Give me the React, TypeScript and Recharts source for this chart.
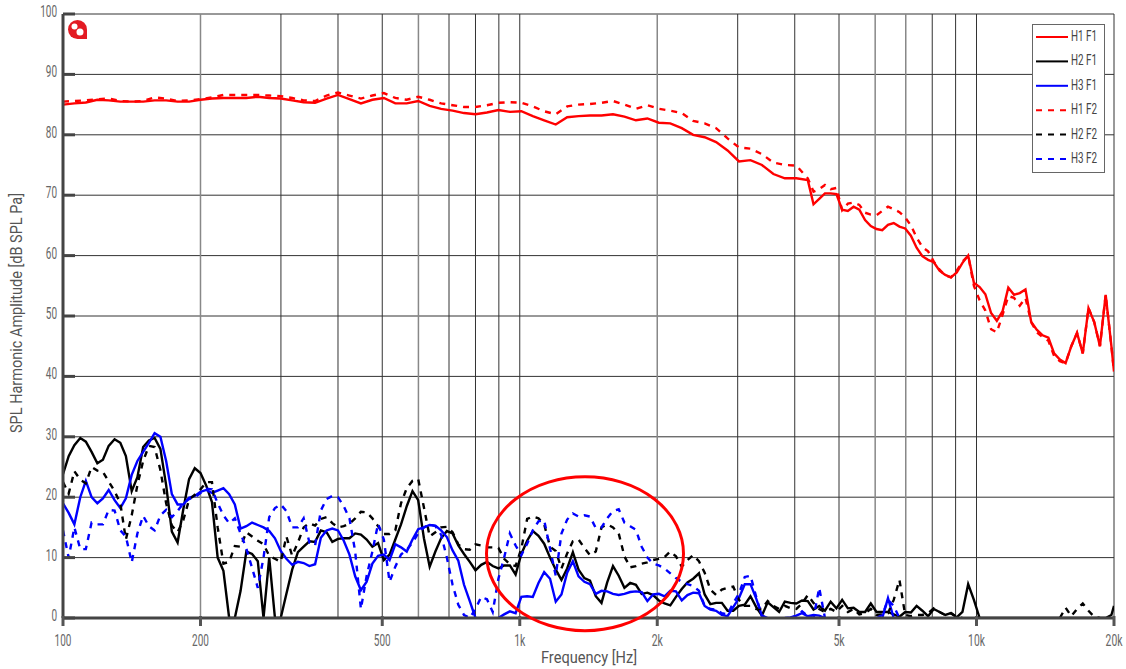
import { CartesianGrid, Label, Legend, Line, LineChart, XAxis, YAxis } from 'recharts'

const FONT = 'Roboto, "DejaVu Sans Condensed", sans-serif'

const lowFreqs = [
  100, 102.9, 105.9, 109.1, 112.2, 115.5, 118.9, 122.3, 125.9, 129.7, 133.5, 137.3,
  141.4, 145.5, 149.8, 154.2, 158.7, 163.4, 168.2, 173.1, 178.2, 183.4, 188.8, 194.3,
  200, 205.9, 211.9, 218.1, 224.5, 231.1, 237.8, 244.8, 252, 259.4, 267, 274.8,
  282.8, 291.1, 299.7, 308.4, 317.5, 326.8, 336.4, 346.3, 356.4, 366.9, 377.6, 388.7,
  400, 411.8, 423.8, 436.2, 449, 462.2, 475.7, 489.6, 504, 518.8, 534, 549.6,
  565.7, 582.3, 599.3, 616.9, 635, 653.6, 672.7, 692.5, 712.7, 733.6, 755.1, 777.3,
  800, 823.5, 847.6, 872.5, 898, 924.3, 951.4, 979.3, 1008, 1038, 1068, 1099,
  1131, 1165, 1199, 1234, 1270, 1307, 1345, 1385, 1425, 1467, 1510, 1554,
  1600, 1647, 1695, 1745, 1796, 1849, 1903, 1959, 2016, 2075, 2136, 2198,
  2263, 2329, 2397, 2468, 2540, 2614, 2691, 2770, 2851, 2934, 3020, 3109,
  3200, 3294, 3390, 3490, 3592, 3697, 3805, 3917, 4032, 4150, 4272, 4397,
  4525, 4658, 4794, 4935, 5080, 5228, 5382, 5539, 5702, 5869, 6041, 6218,
  6400, 6588, 6781, 6980, 7184, 7394, 7611, 7834, 8063, 8300, 8543, 8793,
  9051, 9316, 9589, 9870, 10159, 10457, 10763, 11079, 11404, 11738, 12082, 12436,
  12800, 13175, 13561, 13959, 14368, 14789, 15222, 15668, 16127, 16600, 17086, 17586,
  18102, 18632, 19178, 19740, 20000,
]

const h1Freqs = [
  100, 105.9, 112.2, 118.9, 125.9, 133.5, 141.4, 149.8, 158.7, 168.2, 178.2, 188.8,
  200, 211.9, 224.5, 237.8, 252, 267, 282.8, 299.7, 317.5, 336.4, 356.4, 377.6,
  400, 423.8, 449, 475.7, 504, 534, 565.7, 599.3, 635, 672.7, 712.7, 755.1,
  800, 847.6, 898, 951.4, 1008, 1068, 1131, 1199, 1270, 1345, 1425, 1510,
  1600, 1695, 1796, 1903, 2016, 2136, 2263, 2397, 2540, 2691, 2851, 3020,
  3200, 3390, 3592, 3805, 4032, 4272, 4397, 4525, 4658, 4794, 4935, 5080,
  5228, 5382, 5539, 5702, 5869, 6041, 6218, 6400, 6588, 6781, 6980, 7184,
  7394, 7611, 7834, 8063, 8300, 8543, 8793, 9051, 9316, 9589, 9870, 10159,
  10457, 10763, 11079, 11404, 11738, 12082, 12436, 12800, 13175, 13561, 13959, 14368,
  14789, 15222, 15668, 16127, 16600, 17086, 17586, 18102, 18632, 19178, 19740, 20000,
]

const h1f1 = [
  85, 85.2, 85.35, 85.8, 85.7, 85.5, 85.5, 85.5, 85.7, 85.7, 85.5, 85.5,
  85.8, 86, 86.1, 86.1, 86.1, 86.3, 86.1, 86, 85.7, 85.4, 85.3, 86,
  86.6, 85.9, 85.2, 85.8, 86.1, 85.2, 85.2, 85.6, 84.8, 84.3, 84, 83.6,
  83.4, 83.7, 84.1, 83.8, 83.9, 83.1, 82.4, 81.7, 82.9, 83.1, 83.2, 83.2,
  83.4, 83, 82.4, 82.7, 82, 81.9, 81.1, 80, 79.6, 78.8, 77.4, 75.6,
  75.8, 75, 73.5, 72.8, 72.8, 72.5, 68.5, 69.4, 70.3, 70.3, 70.2, 67.6,
  67.4, 68.1, 67.6, 65.9, 64.9, 64.4, 64.2, 65.1, 65.4, 64.8, 64.5, 63.3,
  61.3, 59.9, 59.3, 58.9, 57.5, 56.8, 56.4, 57.2, 58.8, 60, 55.5, 54.8,
  53.6, 50.5, 49.2, 50.8, 54.7, 53.5, 53.8, 54.4, 49, 47.7, 46.8, 46.4,
  43.8, 42.8, 42.2, 45, 47.2, 43.8, 51.3, 49, 45, 53.5, 45, 40.8,
]

const h1f2 = [
  85.5, 85.6, 85.7, 85.9, 86, 85.6, 85.5, 85.6, 86.2, 86, 85.6, 85.7,
  85.9, 86.2, 86.6, 86.6, 86.6, 86.6, 86.5, 86.4, 86.1, 85.7, 85.6, 86.5,
  87, 86.5, 86, 86.5, 86.9, 86.1, 85.8, 86.3, 85.8, 85.2, 84.9, 84.6,
  84.6, 84.9, 85.3, 85.4, 85.3, 84.7, 83.9, 83.4, 84.7, 85, 85.1, 85.3,
  85.6, 85, 84.3, 84.9, 84.3, 84, 83.6, 82.3, 81.9, 81.1, 79.4, 77.9,
  77.7, 76.8, 75.4, 75, 74.9, 72.8, 70.6, 71, 71.7, 71, 71.2, 67.5,
  68.6, 68.8, 68.4, 67.1, 66.8, 66.7, 67.4, 68.1, 67.7, 67.2, 66.3, 65,
  63, 61.4, 60.7, 59, 57.7, 56.7, 56.4, 57.5, 59, 60, 55, 52.6,
  50.9, 47.8, 47.3, 50.2, 53.3, 53, 51.7, 53, 49, 47.3, 46.5, 45.9,
  43.4, 42.5, 42.2, 45, 47.2, 43.8, 51.3, 49, 45, 53.5, 45, 40.8,
]

const h2f1 = [
  23.8, 26.8, 28.6, 29.8, 29.2, 27.5, 25.6, 26.2, 28.5, 29.6, 29, 26.8,
  21, 23.3, 28.3, 29.4, 29.8, 28, 22, 14.3, 12.5, 18, 23, 24.8,
  24, 21.9, 19.2, 10, 7.8, 0, 0, 4.5, 11, 10.6, 9.4, 0,
  10, 0, 0, 4, 8, 10.9, 11.8, 12.7, 12.6, 14.5, 14.2, 12.6,
  13.1, 13.2, 13.2, 14, 13.8, 13, 11.8, 12.4, 9.6, 10.5, 13, 15.5,
  18.5, 21, 19.5, 13.2, 8.5, 11, 13.2, 14.4, 14, 12, 10.6, 9.3,
  7.9, 8.8, 9.3, 8.6, 8.2, 8.7, 8.7, 7.2, 10.6, 12.8, 14.4, 13.6,
  12.3, 10, 8, 6.3, 8.2, 10.9, 8, 6.6, 6.2, 3.6, 2.5, 5.9,
  8.6, 7, 5, 5.8, 5.5, 4, 4.2, 3.8, 2.9, 2.4, 2.1, 3.5,
  4.8, 5.9, 6.5, 7.4, 3.9, 2.3, 2.5, 2.5, 1.2, 1.2, 2, 2.2,
  3.6, 1.8, 0.4, 2.6, 1.8, 1, 2.7, 2.5, 2.4, 2.9, 2.8, 1.4,
  2, 1.2, 2.7, 1.6, 3, 1.6, 1.7, 1, 1, 2.4, 1, 1,
  1, 0.6, 0.2, 1, 0.9, 2, 1.2, 0.3, 1.5, 1, 0.5, 0.8,
  0.1, 1, 5.6, 3, 0, 0, 0, 0, 0, 0, 0, 0,
  0, 0, 0, 0, 0, 0, 0, 0, 0, 0, 0, 0,
  0, 0, 0, 0.5, 2,
]

const h2f2 = [
  22.5, 20.6, 24.3, 22.9, 22.3, 25, 24.4, 24.2, 22.6, 21, 19, 13,
  17, 22, 26, 28.5, 28.3, 24.5, 19, 15.3, 14.2, 16.2, 19.6, 20.4,
  21.3, 22.5, 22.5, 15, 9, 9.3, 11.9, 11.8, 14.2, 13.5, 12.8, 12.2,
  10.3, 9.8, 9.3, 13.5, 10.3, 12.5, 15, 15.7, 15.3, 16.4, 16.7, 15.7,
  15, 15.2, 15.6, 16.5, 17.6, 17.5, 16.5, 15.2, 13.9, 13.9, 14.5, 19,
  21.5, 22.7, 23, 18.3, 13.5, 14.2, 15, 15.1, 14.2, 12.2, 11.4, 11.3,
  12.2, 12, 11.7, 11.7, 11.6, 9.8, 8.9, 8.6, 11.5, 16.4, 16.8, 16.5,
  15.5, 11.8, 11.1, 8.2, 10.7, 12.7, 13, 11.6, 10.4, 11, 15, 15.5,
  15, 14, 10.2, 8.4, 8.6, 9, 9.2, 9.6, 9.8, 10.1, 11, 10.2,
  8.5, 9.6, 10.4, 9.4, 7.5, 4.7, 3.8, 4.7, 5, 5.2, 3, 2,
  2, 1.5, 1.5, 2.8, 2, 1.5, 2, 1.6, 1.5, 2.4, 3.8, 2.5,
  1.5, 1, 1.5, 1, 2, 1, 1.5, 0.6, 0.8, 1.5, 0.5, 0.6,
  0.8, 3, 6.3, 0.5, 0.3, 0.5, 0.5, 0.8, 1.6, 1, 0.5, 0.8,
  0.2, 0, null, null, null, null, null, null, null, null, null, null,
  null, null, null, null, null, null, 0, 1.7, 0.3, 1.5, 2.4, 1.2,
  0.2, 0,
]

const h3f1 = [
  19, 17.4, 15.5, 20, 22.7, 20, 19, 19.8, 21.2, 19.5, 18.2, 19.8,
  23.7, 26, 27.5, 29, 30.6, 30, 26, 20.5, 18.8, 18.8, 19.9, 20.2,
  20.9, 21.2, 20.7, 21.1, 21.5, 20.5, 18.8, 14.8, 15.2, 15.8, 15.4, 15,
  14.4, 13.2, 11.1, 9.8, 8.8, 9.3, 9.1, 8.6, 8.9, 13.3, 14.5, 14.8,
  14.5, 12.8, 10.5, 6.9, 4.6, 6, 9, 10.3, 10.5, 9.6, 12.2, 11.7,
  11, 13, 14.7, 15, 15.4, 15.3, 14.5, 13.4, 11.2, 9.5, 5.5, 2.8,
  0, null, null, null, 0, 0.6, 1.1, 0.8, 3.5, 3.6, 3.5, 5.8,
  7.6, 6.5, 2.7, 3.9, 7.5, 9.4, 6.9, 6, 5.6, 4, 4.5, 4.4,
  4, 3.8, 4, 4.3, 4.4, 4.3, 2.8, 3.9, 4, 3.6, 4.5, 4.4,
  2.9, 3.8, 4.2, 4.1, 2, 1.4, 1.2, 0.5, 0.3, 1.8, 3.3, 5.6,
  5.6, 3.2, 0.4, 0, null, null, 0, 0.1, 0.4, 0.8, 0.3, 0.5,
  0.4, 0, null, null, null, null, null, null, null, null, null, 0,
  3.3, 0,
]

const h3f2 = [
  14.5, 10, 15, 11.4, 11.4, 15.8, 15.5, 15.5, 17.9, 17.8, 14.5, 13.5,
  9.2, 14, 16.9, 15.2, 14.5, 17, 17.9, 16.7, 17.7, 19, 19.7, 20,
  20.7, 21.4, 21.3, 19, 17, 15.7, 16.5, 14, 11.5, 8.3, 5, 10,
  16.7, 18.2, 18.8, 17.7, 15, 15, 16.5, 12.5, 12, 17.8, 19.7, 20.2,
  20, 18.5, 16.5, 11, 1.5, 7, 11, 15.6, 13, 6, 8.5, 10.5,
  11.3, 12.5, 14, 15, 15.5, 15.2, 13.8, 10, 5.5, 2.2, 0.5, 0,
  1.5, 3.5, 3.1, 1, 6.5, 10, 14, 12, 10.4, 12.3, 14.5, 16,
  16.2, 11.5, 7, 14, 16.3, 17.3, 16.8, 17, 16.8, 14.9, 15, 16.5,
  17.7, 18, 15.8, 15.2, 14.6, 11.8, 10, 9, 8.7, 8.2, 7.4, 6.6,
  6, 5.6, 5.3, 4.5, 2, 1.5, 1.4, 0.8, 0.6, 2.5, 4, 6.8,
  7, 3.5, 0.3, 0, null, null, null, 0, 0.3, 1.1, 0.3, 0,
  5, 0, null, null, null, null, null, null, null, null, 0, 0.5,
  3, 2, 0,
]

const xTicks = [
  100, 200, 300, 400, 500, 600, 700, 800, 900, 1000, 2000, 3000, 4000, 5000, 6000, 7000, 8000,
  9000, 10000, 20000,
]
const xLabels: Record<number, string> = {
  100: '100', 200: '200', 500: '500', 1000: '1k', 2000: '2k', 5000: '5k', 10000: '10k', 20000: '20k',
}
const softGrid = [200, 600, 2000, 6000, 7000]
const yTicks = [0, 10, 20, 30, 40, 50, 60, 70, 80, 90, 100]

const rows = (freqs: number[], values: (number | null)[]) =>
  freqs.map((f, i) => ({ f, v: values[i] ?? null }))

const series = [
  { name: 'H1 F1', freqs: h1Freqs, values: h1f1, color: '#ff0000', dash: undefined },
  { name: 'H2 F1', freqs: lowFreqs, values: h2f1, color: '#000000', dash: undefined },
  { name: 'H3 F1', freqs: lowFreqs, values: h3f1, color: '#0000ff', dash: undefined },
  { name: 'H1 F2', freqs: h1Freqs, values: h1f2, color: '#ff0000', dash: '6 6' },
  { name: 'H2 F2', freqs: lowFreqs, values: h2f2, color: '#000000', dash: '6 6' },
  { name: 'H3 F2', freqs: lowFreqs, values: h3f2, color: '#0000ff', dash: '6 6' },
]

// the source uses a narrow font, Roboto squeezed to the same widths is the nearest we have
function FreqTick({ x, y, payload }: any) {
  const text = xLabels[payload.value]
  if (!text) return null
  return (
    <g>
      <line x1={x} x2={x} y1={y - 10} y2={y} stroke="#555" strokeWidth={3} />
      <text
        x={x}
        y={y + 20}
        textAnchor="middle"
        fontSize={16}
        fontFamily={FONT}
        fill="#666"
        textLength={text.length * 5.6}
        lengthAdjust="spacingAndGlyphs"
      >
        {text}
      </text>
    </g>
  )
}

function AmpTick({ x, y, payload }: any) {
  const text = String(payload.value)
  return (
    <text
      x={x}
      y={y + 3}
      textAnchor="end"
      fontSize={16}
      fontFamily={FONT}
      fill="#666"
      textLength={text.length * 5.6}
      lengthAdjust="spacingAndGlyphs"
    >
      {text}
    </text>
  )
}

function GridLine(props: any) {
  const soft = softGrid.includes(xTicks[props.index])
  return (
    <line
      x1={props.x1}
      x2={props.x2}
      y1={props.y1}
      y2={props.y2}
      stroke={soft ? '#888' : '#333'}
      strokeWidth={soft ? 1.5 : 1}
    />
  )
}

function FreqTitle() {
  return (
    <text
      x={589}
      y={663}
      textAnchor="middle"
      fontSize={16}
      fontFamily={FONT}
      fill="#555"
      textLength={96}
      lengthAdjust="spacingAndGlyphs"
    >
      Frequency [Hz]
    </text>
  )
}

function AmpTitle() {
  return (
    <text
      transform="translate(22 313) rotate(-90)"
      textAnchor="middle"
      fontSize={16}
      fontFamily={FONT}
      fill="#555"
      textLength={240}
      lengthAdjust="spacingAndGlyphs"
    >
      SPL Harmonic Amplitude [dB SPL Pa]
    </text>
  )
}

function LegendBox({ payload }: any) {
  return (
    <div style={{ width: 73, height: 149, boxSizing: 'border-box', background: '#fff', border: '1px solid #666' }}>
      <svg width={71} height={147} style={{ display: 'block', overflow: 'visible' }}>
        {(payload || []).map((item: any, i: number) => (
          <g key={item.value}>
            <line
              x1={3}
              x2={35}
              y1={12 + i * 24.4}
              y2={12 + i * 24.4}
              stroke={item.color}
              strokeWidth={2}
              strokeDasharray={item.payload?.strokeDasharray}
            />
            <text
              x={38}
              y={16 + i * 24.4}
              fontSize={15}
              fontFamily={FONT}
              fill="#444"
              textLength={26}
              lengthAdjust="spacingAndGlyphs"
            >
              {item.value}
            </text>
          </g>
        ))}
      </svg>
    </div>
  )
}

export default function App() {
  return (
    <div style={{ position: 'absolute', left: 0, top: 0, width: 1126, height: 669 }}>
      <LineChart width={1126} height={669} margin={{ top: 14, right: 12, bottom: 0, left: 0 }}>
        <CartesianGrid stroke="#333" vertical={GridLine} />
        <XAxis
          dataKey="f"
          type="number"
          scale="log"
          domain={[100, 20000]}
          ticks={xTicks}
          interval={0}
          allowDataOverflow
          height={51}
          stroke="#444"
          strokeWidth={3}
          tickLine={false}
          tick={FreqTick}
        >
          <Label content={FreqTitle} />
        </XAxis>
        <YAxis
          type="number"
          domain={[0, 100]}
          ticks={yTicks}
          interval={0}
          allowDataOverflow
          width={63}
          stroke="#444"
          strokeWidth={3}
          tickSize={-12}
          tickMargin={18}
          tick={AmpTick}
        >
          <Label content={AmpTitle} />
        </YAxis>
        <Legend
          layout="vertical"
          align="center"
          verticalAlign="middle"
          itemSorter={null}
          content={LegendBox}
          wrapperStyle={{ position: 'absolute', left: 1032, top: 24, width: 73, height: 149, bottom: 'auto', right: 'auto' }}
        />
        {series.map((s) => (
          <Line
            key={s.name}
            name={s.name}
            data={rows(s.freqs, s.values)}
            dataKey="v"
            stroke={s.color}
            strokeWidth={2.4}
            strokeDasharray={s.dash}
            dot={false}
            activeDot={false}
            isAnimationActive={false}
          />
        ))}
      </LineChart>
      <svg width={1126} height={669} style={{ position: 'absolute', left: 0, top: 0, pointerEvents: 'none' }}>
        <ellipse cx={585} cy={553.7} rx={98.5} ry={77} fill="none" stroke="#ff0000" strokeWidth={3} />
        <path d="M77.5 20 A9.5 9.5 0 1 0 77.5 39 L87 39 L87 29.5 A9.5 9.5 0 0 0 77.5 20 Z" fill="#e31b23" />
        <circle cx={74.5} cy={26.5} r={3} fill="#fff" />
        <circle cx={80} cy={32} r={3.5} fill="#fff" />
      </svg>
    </div>
  )
}
